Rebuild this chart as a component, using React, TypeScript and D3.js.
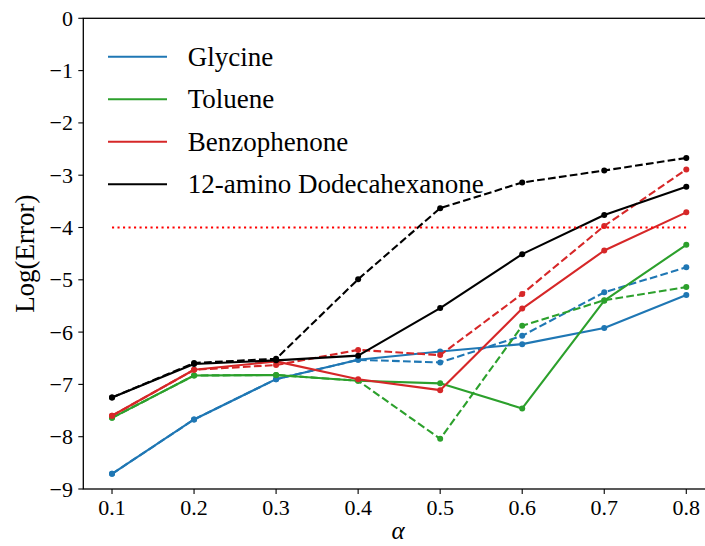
import React from "react";
import * as d3 from "d3";

const alphas = [0.1, 0.2, 0.3, 0.4, 0.5, 0.6, 0.7, 0.8];
const seriesNames = ["Glycine", "Toluene", "Benzophenone", "12-amino Dodecahexanone"];
const seriesColors = ["#1f77b4", "#2ca02c", "#d62728", "#000000"];
const glycineSolid = [-8.71, -7.67, -6.9, -6.53, -6.37, -6.23, -5.92, -5.29];
const glycineDashed = [-8.71, -7.67, -6.9, -6.53, -6.58, -6.07, -5.24, -4.76];
const tolueneSolid = [-7.64, -6.83, -6.82, -6.93, -6.98, -7.46, -5.4, -4.33];
const tolueneDashed = [-7.64, -6.83, -6.82, -6.93, -8.04, -5.88, -5.39, -5.14];
const benzoSolid = [-7.6, -6.72, -6.56, -6.9, -7.11, -5.55, -4.44, -3.71];
const benzoDashed = [-7.6, -6.72, -6.63, -6.34, -6.44, -5.27, -3.97, -2.89];
const aminoSolid = [-7.25, -6.61, -6.54, -6.45, -5.54, -4.51, -3.76, -3.22];
const aminoDashed = [-7.25, -6.59, -6.51, -4.99, -3.63, -3.14, -2.91, -2.67];
const threshold = -4;
const xTicks = [0.1, 0.2, 0.3, 0.4, 0.5, 0.6, 0.7, 0.8];
const yTicks = [0, -1, -2, -3, -4, -5, -6, -7, -8, -9];

const solids = [glycineSolid, tolueneSolid, benzoSolid, aminoSolid];
const dashes = [glycineDashed, tolueneDashed, benzoDashed, aminoDashed];

const W = 705;
const H = 546;
const left = 83.3;
const right = 715;
const top = 18.3;
const bottom = 489;
const FONT = "'Liberation Serif', 'Times New Roman', serif";

export default function App() {
  const x = d3.scaleLinear().domain([0.065, 0.835]).range([left, right]);
  const y = d3.scaleLinear().domain([-9, 0]).range([bottom, top]);
  const line = d3
    .line<number>()
    .x((_, i) => x(alphas[i]))
    .y((d) => y(d));

  const renderSeries = (vals: number[], color: string, dashed: boolean, key: string) => (
    <g key={key}>
      <path
        d={line(vals) || ""}
        fill="none"
        stroke={color}
        strokeWidth={2.1}
        strokeDasharray={dashed ? "7.7,3.3" : undefined}
        strokeLinejoin="round"
      />
      {vals.map((v, i) => (
        <circle key={i} cx={x(alphas[i])} cy={y(v)} r={3} fill={color} />
      ))}
    </g>
  );

  return (
    <svg
      width={W}
      height={H}
      style={{ position: "absolute", left: 0, top: 0, background: "#fff" }}
      fontFamily={FONT}
    >
      <rect x={0} y={0} width={W} height={H} fill="#fff" />
      {solids.map((s, k) => (
        <g key={"s" + k}>
          {renderSeries(s, seriesColors[k], false, "sol" + k)}
          {renderSeries(dashes[k], seriesColors[k], true, "das" + k)}
        </g>
      ))}
      <line
        x1={x(alphas[0])}
        x2={x(alphas[alphas.length - 1])}
        y1={y(threshold)}
        y2={y(threshold)}
        stroke="#ff0000"
        strokeWidth={2.1}
        strokeDasharray="2.1,3.4"
      />
      <rect
        x={left}
        y={top}
        width={right - left}
        height={bottom - top}
        fill="none"
        stroke="#000"
        strokeWidth={1.3}
      />
      {xTicks.map((t) => (
        <g key={"xt" + t}>
          <line x1={x(t)} x2={x(t)} y1={bottom} y2={bottom + 5} stroke="#000" strokeWidth={1.1} />
          <text x={x(t)} y={515} textAnchor="middle" fontSize={22} fill="#000">
            {t.toFixed(1)}
          </text>
        </g>
      ))}
      {yTicks.map((t) => (
        <g key={"yt" + t}>
          <line x1={left - 5} x2={left} y1={y(t)} y2={y(t)} stroke="#000" strokeWidth={1.1} />
          <text x={73} y={y(t) + 7.5} textAnchor="end" fontSize={22} fill="#000">
            {t < 0 ? "\u2212" + Math.abs(t) : String(t)}
          </text>
        </g>
      ))}
      <text
        transform={`translate(34,${(top + bottom) / 2}) rotate(-90)`}
        textAnchor="middle"
        fontSize={27}
        fill="#000"
      >
        Log(Error)
      </text>
      <text x={398} y={539} textAnchor="middle" fontSize={25} fontStyle="italic" fill="#000">
        α
      </text>
      {seriesNames.map((n, i) => {
        const ly = 56.7 + i * 42.5;
        return (
          <g key={"lg" + i}>
            <line x1={108} x2={167} y1={ly} y2={ly} stroke={seriesColors[i]} strokeWidth={2.1} />
            <text x={187.7} y={ly + 9} fontSize={27} fill="#000">
              {n}
            </text>
          </g>
        );
      })}
    </svg>
  );
}
